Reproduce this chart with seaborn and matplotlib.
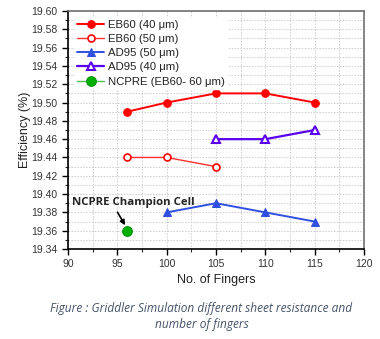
import matplotlib
matplotlib.use("Agg")
import matplotlib.pyplot as plt
import seaborn as sns
import pandas as pd
from matplotlib.ticker import MultipleLocator

# Data
eb60_40_x = [96, 100, 105, 110, 115]
eb60_40_y = [19.49, 19.50, 19.51, 19.51, 19.50]
eb60_50_x = [96, 100, 105]
eb60_50_y = [19.44, 19.44, 19.43]
ad95_50_x = [100, 105, 110, 115]
ad95_50_y = [19.38, 19.39, 19.38, 19.37]
ad95_40_x = [105, 110, 115]
ad95_40_y = [19.46, 19.46, 19.47]
ncpre_x = [96]
ncpre_y = [19.36]
labels = ["EB60 (40 \u03bcm)", "EB60 (50 \u03bcm)", "AD95 (50 \u03bcm)", "AD95 (40 \u03bcm)", "NCPRE (EB60- 60 \u03bcm)"]

sns.set_style("white")
plt.rcParams['font.family'] = ['Liberation Sans', 'DejaVu Sans']

fig = plt.figure(figsize=(3.8, 3.39), dpi=100)
ax = fig.add_axes([0.179, 0.2655, 0.779, 0.702])

red = "#ff0000"
blue = "#3050e0"
purple = "#5a00f0"
green = "#00b000"

def df(x, y):
    return pd.DataFrame({"x": x, "y": y})

sns.lineplot(data=df(eb60_40_x, eb60_40_y), x="x", y="y", ax=ax, color=red, lw=1.4,
             marker="o", markersize=5.5, markeredgecolor=red, markerfacecolor=red, label=labels[0], zorder=4)
sns.lineplot(data=df(eb60_50_x, eb60_50_y), x="x", y="y", ax=ax, color="#ff3030", lw=1.0,
             marker="o", markersize=5, markeredgecolor=red, markerfacecolor="white", markeredgewidth=1.2, label=labels[1], zorder=4)
sns.lineplot(data=df(ad95_50_x, ad95_50_y), x="x", y="y", ax=ax, color=blue, lw=1.4,
             marker="^", markersize=6, markeredgecolor=blue, markerfacecolor=blue, label=labels[2], zorder=4)
sns.lineplot(data=df(ad95_40_x, ad95_40_y), x="x", y="y", ax=ax, color=purple, lw=1.6,
             marker="^", markersize=6, markeredgecolor=purple, markerfacecolor="white", markeredgewidth=1.5, label=labels[3], zorder=4)
sns.lineplot(data=df(ncpre_x, ncpre_y), x="x", y="y", ax=ax, color="#50c050", lw=1.0,
             marker="o", markersize=7, markeredgecolor="#009000", markerfacecolor=green, label=labels[4], zorder=4)

ax.set_xlim(90, 120)
ax.set_ylim(19.34, 19.60)
ax.xaxis.set_major_locator(MultipleLocator(5))
ax.xaxis.set_minor_locator(MultipleLocator(2.5))
ax.yaxis.set_major_locator(MultipleLocator(0.02))
ax.yaxis.set_minor_locator(MultipleLocator(0.01))
ax.yaxis.set_major_formatter(matplotlib.ticker.FormatStrFormatter('%.2f'))
ax.grid(True, which="both", color="#cccccc", linestyle=(0, (1.5, 1.5)), lw=0.7)
ax.tick_params(axis="both", which="major", direction="out", length=4, width=1, labelsize=7.5,
               colors="black", labelcolor="#333333", bottom=True, left=True)
ax.tick_params(axis="both", which="minor", direction="out", length=2, width=0.8, bottom=True, left=True)
for s in ["left", "bottom"]:
    ax.spines[s].set_color("black")
    ax.spines[s].set_linewidth(1.2)
for s in ["top", "right"]:
    ax.spines[s].set_color("#707070")
    ax.spines[s].set_linewidth(1.2)

ax.set_xlabel("No. of Fingers", fontsize=9, color="#222222", labelpad=3)
ax.set_ylabel("Efficiency (%)", fontsize=9, color="#222222", labelpad=0)

leg = ax.legend(loc="upper left", fontsize=8.2, frameon=True, framealpha=1.0, edgecolor="white",
                facecolor="white", handlelength=2.4, handletextpad=0.3, borderpad=0.2,
                labelspacing=0.36, borderaxespad=0.6)
for t in leg.get_texts():
    t.set_color("#222222")

ax.annotate("NCPRE Champion Cell", xy=(96, 19.362), xytext=(90.4, 19.391),
            fontsize=8.2, fontweight="bold", family=["Open Sans", "DejaVu Sans"],
            ha="left", va="center", zorder=3,
            arrowprops=dict(arrowstyle="-|>", color="black", lw=1.2, mutation_scale=7,
                            shrinkA=1, shrinkB=3, relpos=(0.35, 0.0)))

fig.text(0.53, 0.067, "Figure : Griddler Simulation different sheet resistance and\nnumber of fingers",
         ha="center", va="center", fontsize=8.6, style="italic", color="#44546a",
         family=["Open Sans", "DejaVu Sans"], linespacing=1.3)

fig.savefig("out.png", dpi=100)
